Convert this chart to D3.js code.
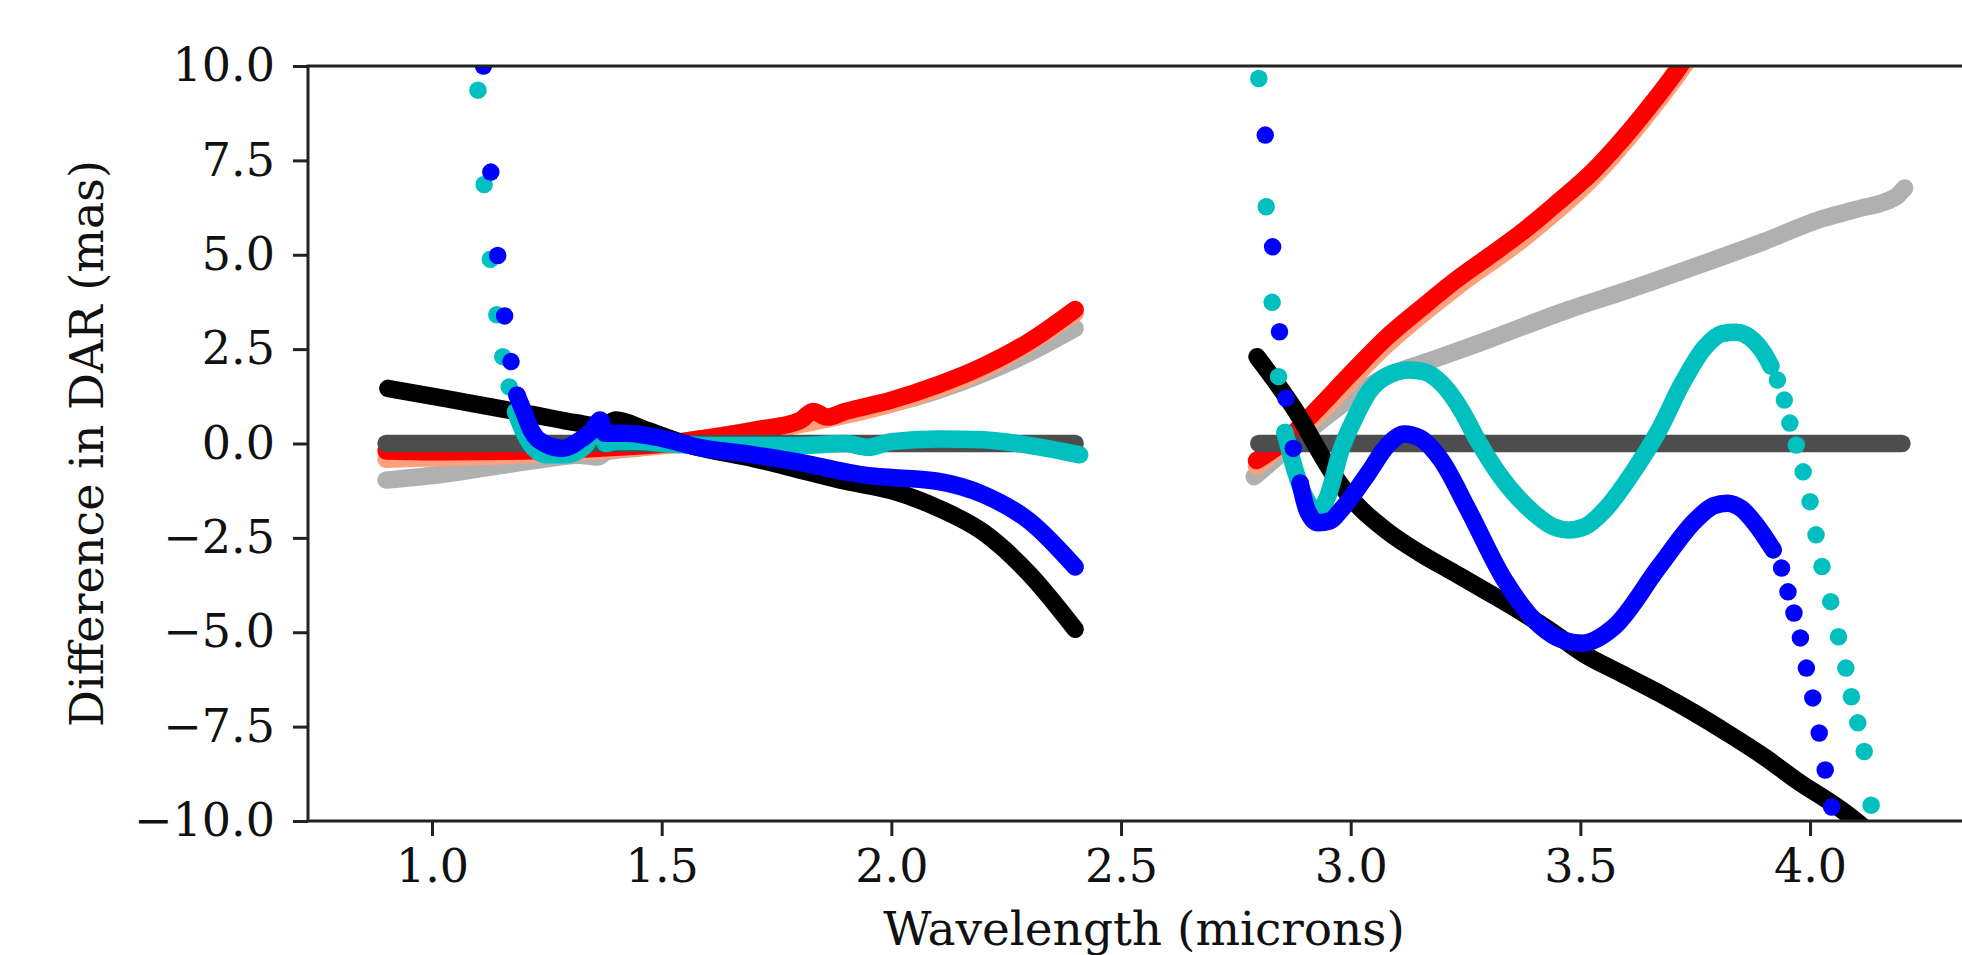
<!DOCTYPE html>
<html lang="en">
<head>
  <meta charset="UTF-8">
  <title>DAR difference</title>
  <script src="https://cdnjs.cloudflare.com/ajax/libs/d3/7.8.5/d3.min.js"></script>
  <style>
    body { margin: 0; background: #fff; }
  </style>
</head>
<body>
  <script>
    // tick values
    const xTicks = [1.0, 1.5, 2.0, 2.5, 3.0, 3.5, 4.0];
    const yTicks = [-10, -7.5, -5, -2.5, 0, 2.5, 5, 7.5, 10];

    // dark gray (reference, zero)
    const darkLeft = [[0.9, 0], [2.4, 0]];
    const darkRight = [[2.8, 0], [4.2, 0]];

    // light gray
    const greyLeft = [[0.9, -0.97], [1.03, -0.8], [1.13, -0.62], [1.23, -0.44], [1.32, -0.31], [1.36, -0.36],
      [1.38, -0.22], [1.45, -0.12], [1.5, -0.05], [1.6, 0.15], [1.7, 0.35], [1.8, 0.55], [1.9, 0.8],
      [2.0, 1.05], [2.1, 1.4], [2.2, 1.85], [2.3, 2.4], [2.4, 3.05]];
    const greyRight = [[2.79, -0.88], [2.929, 0.54], [3.0, 1.2], [3.077, 1.77], [3.177, 2.21], [3.3, 2.75],
      [3.473, 3.54], [3.6, 4.05], [3.771, 4.78], [3.9, 5.35], [4.018, 5.92], [4.1, 6.2], [4.186, 6.53], [4.206, 6.77]];

    // salmon
    const salmonLeft = [[0.9, -0.42], [1.0, -0.38], [1.2, -0.3], [1.4, -0.15], [1.6, 0.05], [1.8, 0.5],
      [2.0, 1.05], [2.2, 1.95], [2.4, 3.45]];
    const salmonRight = [[2.795, -0.6], [2.919, 0.65], [3.077, 2.6], [3.226, 4.1], [3.375, 5.42],
      [3.524, 7.0], [3.632, 8.5], [3.711, 9.75], [3.77, 10.8]];

    // red
    const redLeft = [[0.9, -0.2], [1.0, -0.22], [1.2, -0.2], [1.4, -0.1], [1.5, -0.02], [1.6, 0.15],
      [1.7, 0.35], [1.8, 0.6], [1.83, 0.85], [1.86, 0.7], [1.9, 0.85], [2.0, 1.15], [2.1, 1.55], [2.2, 2.05],
      [2.3, 2.7], [2.4, 3.55]];
    const redRight = [[2.795, -0.45], [2.85, 0.0], [2.919, 0.81], [3.0, 1.85], [3.077, 2.8], [3.15, 3.55],
      [3.226, 4.3], [3.3, 4.95], [3.375, 5.62], [3.45, 6.38], [3.524, 7.17], [3.58, 7.9], [3.632, 8.65],
      [3.711, 9.9], [3.76, 10.8]];

    // black
    const blackLeft = [[0.904, 1.46], [1.03, 1.19], [1.128, 0.97], [1.226, 0.75], [1.313, 0.55], [1.37, 0.45],
      [1.4, 0.62], [1.468, 0.35], [1.566, -0.06], [1.7, -0.4], [1.8, -0.7], [1.9, -1.0], [2.0, -1.25],
      [2.1, -1.7], [2.2, -2.35], [2.3, -3.45], [2.4, -4.92]];
    const blackRight = [[2.796, 2.3], [2.879, 0.89], [2.96, -0.78], [3.008, -1.55], [3.077, -2.3], [3.15, -2.9],
      [3.226, -3.43], [3.3, -3.95], [3.375, -4.49], [3.44, -5.0], [3.504, -5.55], [3.59, -6.1], [3.671, -6.61],
      [3.75, -7.15], [3.82, -7.67], [3.9, -8.3], [3.969, -8.91], [4.078, -9.79], [4.14, -10.4]];

    // cyan
    const cyanDotsLeft = [[1.1, 9.36], [1.1135, 6.86], [1.127, 4.88], [1.141, 3.41], [1.154, 2.3], [1.168, 1.5], [1.182, 0.84]];
    const cyanLeft = [[1.182, 0.84], [1.2, 0.3], [1.22, -0.1], [1.25, -0.3], [1.29, -0.3], [1.33, -0.1],
      [1.366, 0.45], [1.378, 0.0], [1.4, 0.05], [1.45, 0.05], [1.5, 0.0], [1.6, -0.05], [1.7, -0.05],
      [1.8, -0.05], [1.9, 0.0], [1.95, -0.1], [2.0, 0.05], [2.1, 0.12], [2.2, 0.1], [2.3, -0.05], [2.41, -0.3]];
    const cyanDotsRight = [[2.8, 9.67], [2.816, 6.27], [2.829, 3.74], [2.843, 1.77], [2.857, 0.29],
      [3.929, 1.68], [3.944, 1.15], [3.956, 0.54], [3.97, -0.04], [3.985, -0.75], [4.0, -1.54], [4.013, -2.42],
      [4.026, -3.26], [4.045, -4.19], [4.062, -5.12], [4.078, -5.95], [4.09, -6.71], [4.104, -7.4],
      [4.118, -8.16], [4.133, -9.58]];
    const cyanRight = [[2.857, 0.29], [2.88, -0.75], [2.9, -1.41], [2.929, -1.78], [2.95, -1.4], [2.979, -0.17],
      [3.01, 0.7], [3.038, 1.34], [3.08, 1.8], [3.127, 1.95], [3.16, 1.9], [3.197, 1.6], [3.24, 0.9],
      [3.276, 0.09], [3.325, -0.85], [3.395, -1.8], [3.44, -2.2], [3.474, -2.29], [3.51, -2.2], [3.553, -1.76],
      [3.622, -0.62], [3.671, 0.35], [3.722, 1.6], [3.771, 2.55], [3.81, 2.92], [3.84, 2.95], [3.87, 2.8],
      [3.899, 2.4], [3.915, 2.05]];

    // blue
    const blueDotsLeft = [[1.112, 10.0], [1.128, 7.19], [1.143, 4.98], [1.158, 3.38], [1.172, 2.17], [1.185, 1.28]];
    const blueLeft = [[1.185, 1.28], [1.201, 0.8], [1.216, 0.35], [1.245, 0.0], [1.284, -0.13], [1.322, 0.09],
      [1.352, 0.4], [1.366, 0.62], [1.376, 0.27], [1.42, 0.27], [1.517, 0.09], [1.575, -0.09], [1.7, -0.3],
      [1.8, -0.5], [1.9, -0.75], [1.95, -0.85], [2.0, -0.9], [2.1, -1.0], [2.2, -1.35], [2.3, -2.05], [2.4, -3.27]];
    const blueDotsRight = [[2.814, 8.17], [2.83, 5.21], [2.845, 2.96], [2.859, 1.2], [2.875, -0.13], [2.89, -1.05],
      [3.938, -3.3], [3.952, -3.93], [3.965, -4.49], [3.979, -5.15], [3.992, -5.95], [4.006, -6.74],
      [4.02, -7.67], [4.033, -8.65], [4.047, -9.63]];
    const blueRight = [[2.89, -1.05], [2.905, -1.76], [2.929, -2.1], [2.955, -2.05], [2.979, -1.76],
      [3.038, -0.79], [3.08, -0.05], [3.117, 0.25], [3.15, 0.15], [3.197, -0.44], [3.256, -1.76],
      [3.335, -3.62], [3.415, -4.86], [3.46, -5.2], [3.504, -5.29], [3.573, -4.86], [3.671, -3.27],
      [3.751, -2.03], [3.79, -1.65], [3.82, -1.58], [3.85, -1.72], [3.88, -2.11], [3.92, -2.82]];

    // drawing order: bottom to top
    const layers = [
      { color: "#b0b0b0", lines: [greyLeft, greyRight], dots: [] },
      { color: "#ffa07a", lines: [salmonLeft, salmonRight], dots: [] },
      { color: "#ff0000", lines: [redLeft, redRight], dots: [] },
      { color: "#4d4d4d", lines: [darkLeft, darkRight], dots: [] },
      { color: "#000000", lines: [blackLeft, blackRight], dots: [] },
      { color: "#00bfbf", lines: [cyanLeft, cyanRight], dots: cyanDotsLeft.concat(cyanDotsRight) },
      { color: "#0000ff", lines: [blueLeft, blueRight], dots: blueDotsLeft.concat(blueDotsRight) }
    ];

    const W = 1962, H = 955;
    const padL = 308, padT = 66, padB = 821, padR = 1980;
    const markerR = 8.75;
    const font = "'DejaVu Serif', serif";

    const svg = d3.select("body").append("svg")
      .attr("width", W)
      .attr("height", H)
      .style("display", "block");

    const x = d3.scaleLinear().domain([0.73, 4.37]).range([padL, padR]);
    const y = d3.scaleLinear().domain([-10, 10]).range([padB, padT]);

    svg.append("defs").append("clipPath").attr("id", "plot-clip")
      .append("rect")
      .attr("x", padL).attr("y", padT)
      .attr("width", padR - padL).attr("height", padB - padT);

    const plot = svg.append("g").attr("clip-path", "url(#plot-clip)");

    const line = d3.line()
      .x(d => x(d[0]))
      .y(d => y(d[1]))
      .curve(d3.curveMonotoneX);

    layers.forEach(layer => {
      const g = plot.append("g");
      g.selectAll("path")
        .data(layer.lines)
        .enter()
        .append("path")
        .attr("d", line)
        .attr("fill", "none")
        .attr("stroke", layer.color)
        .attr("stroke-width", markerR * 2)
        .attr("stroke-linecap", "round")
        .attr("stroke-linejoin", "round");
      g.selectAll("circle")
        .data(layer.dots)
        .enter()
        .append("circle")
        .attr("cx", d => x(d[0]))
        .attr("cy", d => y(d[1]))
        .attr("r", markerR)
        .attr("fill", layer.color);
    });

    // axes
    const fmt = d => d3.format(".1f")(d).replace("-", "\u2212");

    const xAxis = d3.axisBottom(x).tickValues(xTicks).tickFormat(d3.format(".1f"))
      .tickSize(15).tickPadding(13);
    const gx = svg.append("g").attr("transform", `translate(0, ${padB})`).call(xAxis);

    const yAxis = d3.axisLeft(y).tickValues(yTicks).tickFormat(fmt)
      .tickSize(15).tickPadding(18);
    const gy = svg.append("g").attr("transform", `translate(${padL}, 0)`).call(yAxis);

    [gx, gy].forEach(g => {
      g.select(".domain").remove();
      g.selectAll(".tick line").attr("stroke", "#222").attr("stroke-width", 3);
      g.selectAll(".tick text")
        .attr("fill", "#111")
        .style("font-family", font)
        .style("font-size", "46px");
    });

    // spines
    svg.append("rect")
      .attr("x", padL).attr("y", padT)
      .attr("width", padR - padL).attr("height", padB - padT)
      .attr("fill", "none")
      .attr("stroke", "#222")
      .attr("stroke-width", 3);

    // labels
    svg.append("text")
      .attr("x", (padL + padR) / 2)
      .attr("y", 945)
      .attr("text-anchor", "middle")
      .style("font-family", font)
      .style("font-size", "47px")
      .attr("fill", "#111")
      .text("Wavelength (microns)");

    svg.append("text")
      .attr("transform", `translate(103, ${(padT + padB) / 2}) rotate(-90)`)
      .attr("text-anchor", "middle")
      .style("font-family", font)
      .style("font-size", "46px")
      .attr("fill", "#111")
      .text("Difference in DAR (mas)");
  </script>
</body>
</html>
